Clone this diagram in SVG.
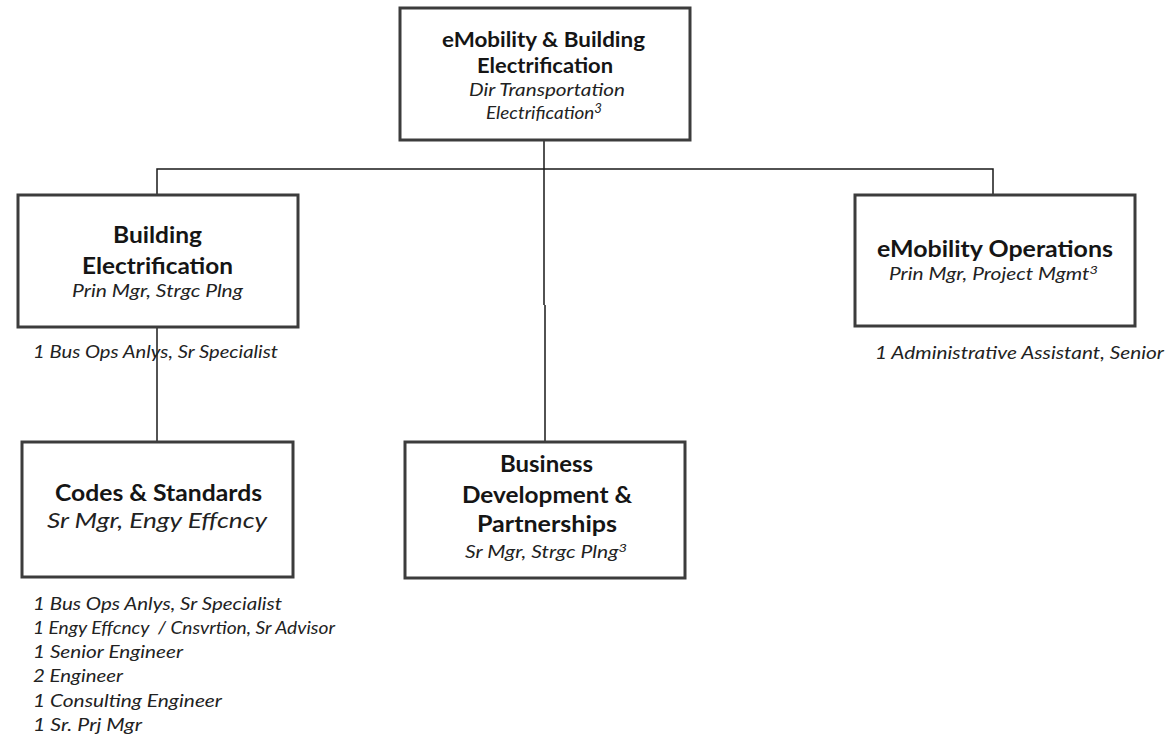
<svg xmlns="http://www.w3.org/2000/svg" width="1166" height="741" viewBox="0 0 1166 741">
  <style>
    .box { fill: #ffffff; stroke: #3c3c3c; stroke-width: 3; }
    .wire { fill: none; stroke: #1a1a1a; stroke-width: 1.5; }
    .t { font-family: Lato, "Open Sans", "Liberation Sans", sans-serif; fill: #151515; }
    .b { font-weight: bold; }
    .i { font-style: italic; fill: #222222; }
    .sup { font-size: 70%; }
  </style>
  <rect width="1166" height="741" fill="#ffffff"/>

  <g id="connectors">
    <path class="wire" d="M544 140 V305 M545 305 V442"/>
    <path class="wire" d="M157 195 V169 H993 V195"/>
    <path class="wire" d="M157 327 V442"/>
  </g>

  <g id="node-emobility-building">
    <rect class="box" x="400" y="8" width="290" height="132"/>
    <text class="t b" x="442" y="47" font-size="21" textLength="203" lengthAdjust="spacingAndGlyphs">eMobility &amp; Building</text>
    <text class="t b" x="477" y="73" font-size="21" textLength="136" lengthAdjust="spacingAndGlyphs">Electrification</text>
    <text class="t i" x="469" y="96" font-size="18" textLength="156" lengthAdjust="spacingAndGlyphs">Dir Transportation</text>
    <text class="t i" x="486" y="119" font-size="18" textLength="116" lengthAdjust="spacingAndGlyphs">Electrification<tspan class="sup" dy="-6">3</tspan></text>
  </g>

  <g id="node-building-electrification">
    <rect class="box" x="18" y="195" width="280" height="132"/>
    <text class="t b" x="113" y="243" font-size="23" textLength="89" lengthAdjust="spacingAndGlyphs">Building</text>
    <text class="t b" x="82" y="274" font-size="23" textLength="151" lengthAdjust="spacingAndGlyphs">Electrification</text>
    <text class="t i" x="72" y="297" font-size="17" textLength="171" lengthAdjust="spacingAndGlyphs">Prin Mgr, Strgc Plng</text>
  </g>
  <text class="t i" x="33" y="358" font-size="17" textLength="245" lengthAdjust="spacingAndGlyphs">1 Bus Ops Anlys, Sr Specialist</text>

  <g id="node-emobility-operations">
    <rect class="box" x="855" y="195" width="280" height="131"/>
    <text class="t b" x="877" y="257" font-size="23" textLength="236" lengthAdjust="spacingAndGlyphs">eMobility Operations</text>
    <text class="t i" x="889" y="280" font-size="17" textLength="209" lengthAdjust="spacingAndGlyphs">Prin Mgr, Project Mgmt<tspan class="sup" dy="-6">3</tspan></text>
  </g>
  <text class="t i" x="875" y="359" font-size="17" textLength="289" lengthAdjust="spacingAndGlyphs">1 Administrative Assistant, Senior</text>

  <g id="node-codes-standards">
    <rect class="box" x="22" y="442" width="271" height="135"/>
    <text class="t b" x="55" y="501" font-size="22" textLength="207" lengthAdjust="spacingAndGlyphs">Codes &amp; Standards</text>
    <text class="t i" x="47" y="528" font-size="21" textLength="220" lengthAdjust="spacingAndGlyphs">Sr Mgr, Engy Effcncy</text>
  </g>
  <g id="codes-standards-staff" class="t i" font-size="17">
    <text x="33" y="610" textLength="249" lengthAdjust="spacingAndGlyphs">1 Bus Ops Anlys, Sr Specialist</text>
    <text x="33" y="634" textLength="302" lengthAdjust="spacingAndGlyphs" xml:space="preserve">1 Engy Effcncy  / Cnsvrtion, Sr Advisor</text>
    <text x="33" y="658" textLength="150" lengthAdjust="spacingAndGlyphs">1 Senior Engineer</text>
    <text x="33" y="682" textLength="90" lengthAdjust="spacingAndGlyphs">2 Engineer</text>
    <text x="33" y="707" textLength="189" lengthAdjust="spacingAndGlyphs">1 Consulting Engineer</text>
    <text x="33" y="731" textLength="109" lengthAdjust="spacingAndGlyphs">1 Sr. Prj Mgr</text>
  </g>

  <g id="node-business-development">
    <rect class="box" x="405" y="442" width="280" height="136"/>
    <text class="t b" x="500" y="472" font-size="23" textLength="93" lengthAdjust="spacingAndGlyphs">Business</text>
    <text class="t b" x="462" y="503" font-size="23" textLength="170" lengthAdjust="spacingAndGlyphs">Development &amp;</text>
    <text class="t b" x="477" y="532" font-size="23" textLength="140" lengthAdjust="spacingAndGlyphs">Partnerships</text>
    <text class="t i" x="465" y="558" font-size="17" textLength="162" lengthAdjust="spacingAndGlyphs">Sr Mgr, Strgc Plng<tspan class="sup" dy="-6">3</tspan></text>
  </g>
</svg>
